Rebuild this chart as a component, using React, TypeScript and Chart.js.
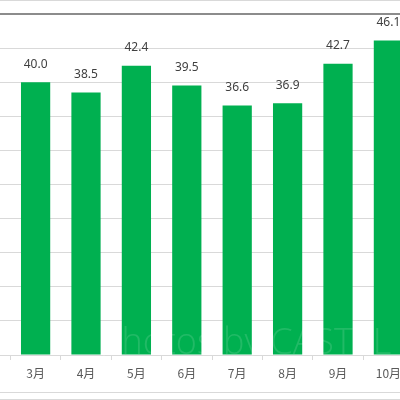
import { useEffect, useRef } from "react";
import { Chart, registerables, type ChartConfiguration, type Plugin } from "chart.js";

Chart.register(...registerables);

// months shown in the crop; a blank slot sits left of 3月 so the grid runs to the edge
const months = ["3月", "4月", "5月", "6月", "7月", "8月", "9月", "10月"];
const values = [40.0, 38.5, 42.4, 39.5, 36.6, 36.9, 42.7, 46.1];
const yTicks = [0, 5, 10, 15, 20, 25, 30, 35, 40, 45, 50];

const GREEN = "#00B050";
const GRID = "#d9d9d9";

const valueLabels: Plugin<"bar"> = {
  id: "valueLabels",
  afterDatasetsDraw(chart) {
    const ctx = chart.ctx;
    const meta = chart.getDatasetMeta(0);
    const data = chart.data.datasets[0].data as (number | null)[];
    ctx.save();
    ctx.font = "12px 'Noto Sans', sans-serif";
    ctx.fillStyle = "#404040";
    ctx.textAlign = "center";
    ctx.textBaseline = "middle";
    meta.data.forEach((el, i) => {
      const v = data[i];
      if (v == null) return;
      ctx.fillText(v.toFixed(1), el.x, el.y - 18);
    });
    ctx.restore();
  }
};

const watermark: Plugin<"bar"> = {
  id: "watermark",
  afterDatasetsDraw(chart) {
    const ctx = chart.ctx;
    const { bottom } = chart.chartArea;
    ctx.save();
    ctx.font = "300 36px 'Open Sans', sans-serif";
    ctx.fillStyle = "rgba(255,255,255,0.13)";
    ctx.textBaseline = "alphabetic";
    ctx.fillText("photos by CASTEL", 140, bottom - 1);
    ctx.restore();
  }
};

export default function App() {
  const ref = useRef<HTMLCanvasElement | null>(null);

  useEffect(() => {
    if (!ref.current) return;
    const config: ChartConfiguration<"bar", (number | null)[], string> = {
      type: "bar",
      data: {
        labels: ["", ...months],
        datasets: [
          {
            data: [null, ...values],
            backgroundColor: GREEN,
            borderWidth: 0,
            categoryPercentage: 1,
            barPercentage: 0.58
          }
        ]
      },
      options: {
        animation: false,
        responsive: true,
        maintainAspectRatio: false,
        layout: { padding: { top: 14, right: 16.4, left: 0, bottom: 0 } },
        plugins: { legend: { display: false }, tooltip: { enabled: false } },
        scales: {
          x: {
            grid: { drawOnChartArea: false, drawTicks: true, tickLength: 5, color: GRID, offset: true },
            border: { color: GRID },
            ticks: {
              color: "#595959",
              padding: 6,
              maxRotation: 0,
              font: { family: "'Noto Sans CJK JP', sans-serif", size: 12 }
            },
            afterFit: (scale) => {
              scale.height = 45;
            }
          },
          y: {
            min: 0,
            max: 50,
            afterBuildTicks: (scale) => {
              scale.ticks = yTicks.map((v) => ({ value: v }));
            },
            ticks: { display: false },
            border: { display: false },
            grid: {
              drawTicks: false,
              color: (c) => (c.tick && c.tick.value === 50 ? "#8c8c8c" : GRID),
              lineWidth: (c) => (c.tick && c.tick.value === 50 ? 2 : 1)
            },
            afterFit: (scale) => {
              scale.width = 0;
            }
          }
        }
      },
      plugins: [valueLabels, watermark]
    };
    const chart = new Chart(ref.current, config as ChartConfiguration);
    return () => chart.destroy();
  }, []);

  return (
    <div
      style={{
        position: "absolute",
        left: 0,
        top: 0,
        width: 400,
        height: 400,
        overflow: "hidden",
        background: "#fff"
      }}
    >
      <div style={{ position: "absolute", left: -40.4, top: 0, width: 470, height: 400 }}>
        <canvas ref={ref} />
      </div>
      <div style={{ position: "absolute", left: 0, top: 0, width: 400, height: 1, background: GRID }} />
      <div style={{ position: "absolute", left: 0, top: 392, width: 400, height: 1, background: GRID }} />
      <div style={{ position: "absolute", left: 0, top: 399, width: 400, height: 1, background: GRID }} />
    </div>
  );
}
